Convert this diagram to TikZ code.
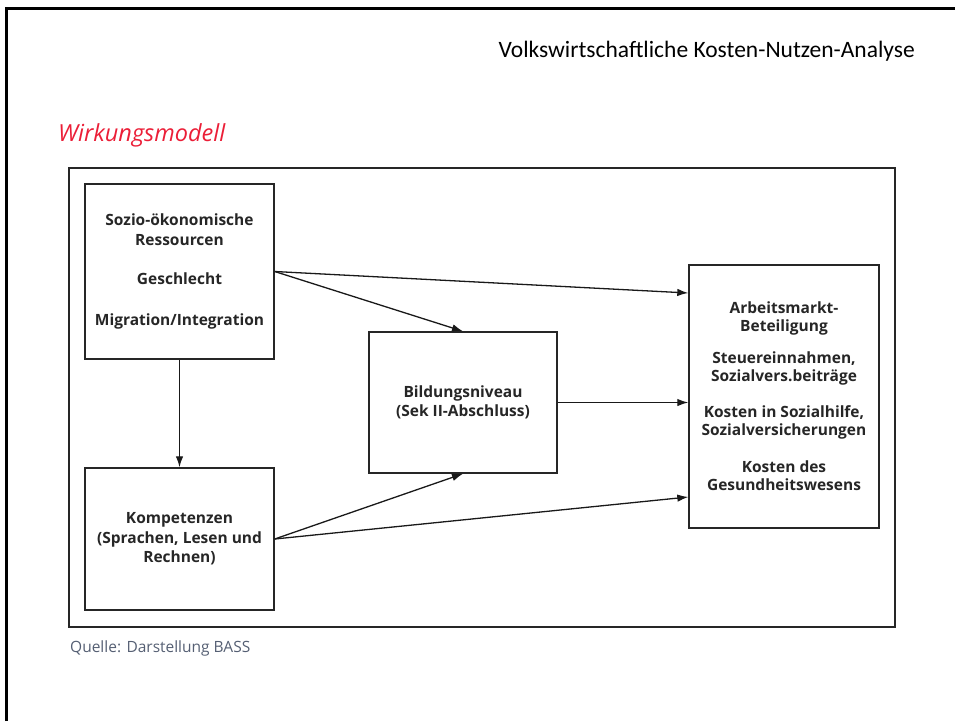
\documentclass[tikz,border=0pt]{standalone}
\usepackage{fontspec}
\setmainfont{Open Sans}
\newfontfamily\folienfont{Carlito}
\usetikzlibrary{arrows.meta}
\definecolor{wirkrot}{RGB}{235,30,55}
\definecolor{quellgrau}{RGB}{85,95,115}

\begin{document}
\begin{tikzpicture}[x=1pt,y=-1pt]
	\tikzstyle{BOX} = [draw=black!85, line width=1.4pt, inner sep=0pt, align=center, text=black!85, font=\fontsize{15.5}{19.5}\selectfont\bfseries]
	\tikzstyle{WIDE} = [BOX, font=\fontsize{15.5}{18}\selectfont\bfseries]
	\tikzstyle{PFEIL} = [-{Latex[length=11pt,width=7.5pt]}, line width=1.3pt, black!90]
	\useasboundingbox (0,0) rectangle (955,721);

	% Folienrahmen und Titel
	\draw[line width=3pt] (6.5,721) -- (6.5,8.5) -- (955,8.5);
	\node[anchor=base east, inner sep=0pt, font=\folienfont\fontsize{23.5}{27}\selectfont] (TITEL) at (915,57) {Volkswirtschaftliche Kosten-Nutzen-Analyse};
	\node[anchor=base west, inner sep=0pt, text=wirkrot, font=\fontsize{23.5}{27}\selectfont\itshape] (MODELL) at (58,141) {Wirkungsmodell};

	\draw[draw=black!85, line width=1.5pt] (69,168) rectangle (895,627);

	\node[BOX, minimum width=189pt, minimum height=175pt] (SOZ) at (179.5,271.5) {Sozio-ökonomische\\Ressourcen\\[20pt]Geschlecht\\[21pt]Migration/Integration};
	\node[BOX, minimum width=189pt, minimum height=142pt] (KOM) at (179.5,539) {Kompetenzen\\(Sprachen, Lesen und\\Rechnen)};
	\node[BOX, minimum width=188pt, minimum height=141pt] (BIL) at (463,402.5) {Bildungsniveau\\(Sek II-Abschluss)};
	\node[WIDE, minimum width=190pt, minimum height=263pt] (ZIEL) at (784,396.5) {Arbeitsmarkt-\\Beteiligung\\[14pt]Steuereinnahmen,\\Sozialvers.beiträge\\[18pt]Kosten in Sozialhilfe,\\Sozialversicherungen\\[19pt]Kosten des\\Gesundheitswesens};

	\draw[PFEIL] (SOZ.east) -- ([yshift=103.5pt]ZIEL.west);
	\draw[PFEIL] (SOZ.east) -- (BIL.north);
	\draw[PFEIL] (SOZ.south) -- (KOM.north);
	\draw[PFEIL] (KOM.east) -- (BIL.south);
	\draw[PFEIL] (KOM.east) -- ([yshift=-100.5pt]ZIEL.west);
	\draw[PFEIL] (BIL.east) -- (BIL.east -| ZIEL.west);

	\node[anchor=base west, inner sep=0pt, text=quellgrau, font=\fontsize{15.5}{18}\selectfont] (QUELLE) at (70,652) {Quelle: Darstellung BASS};
\end{tikzpicture}
\end{document}
